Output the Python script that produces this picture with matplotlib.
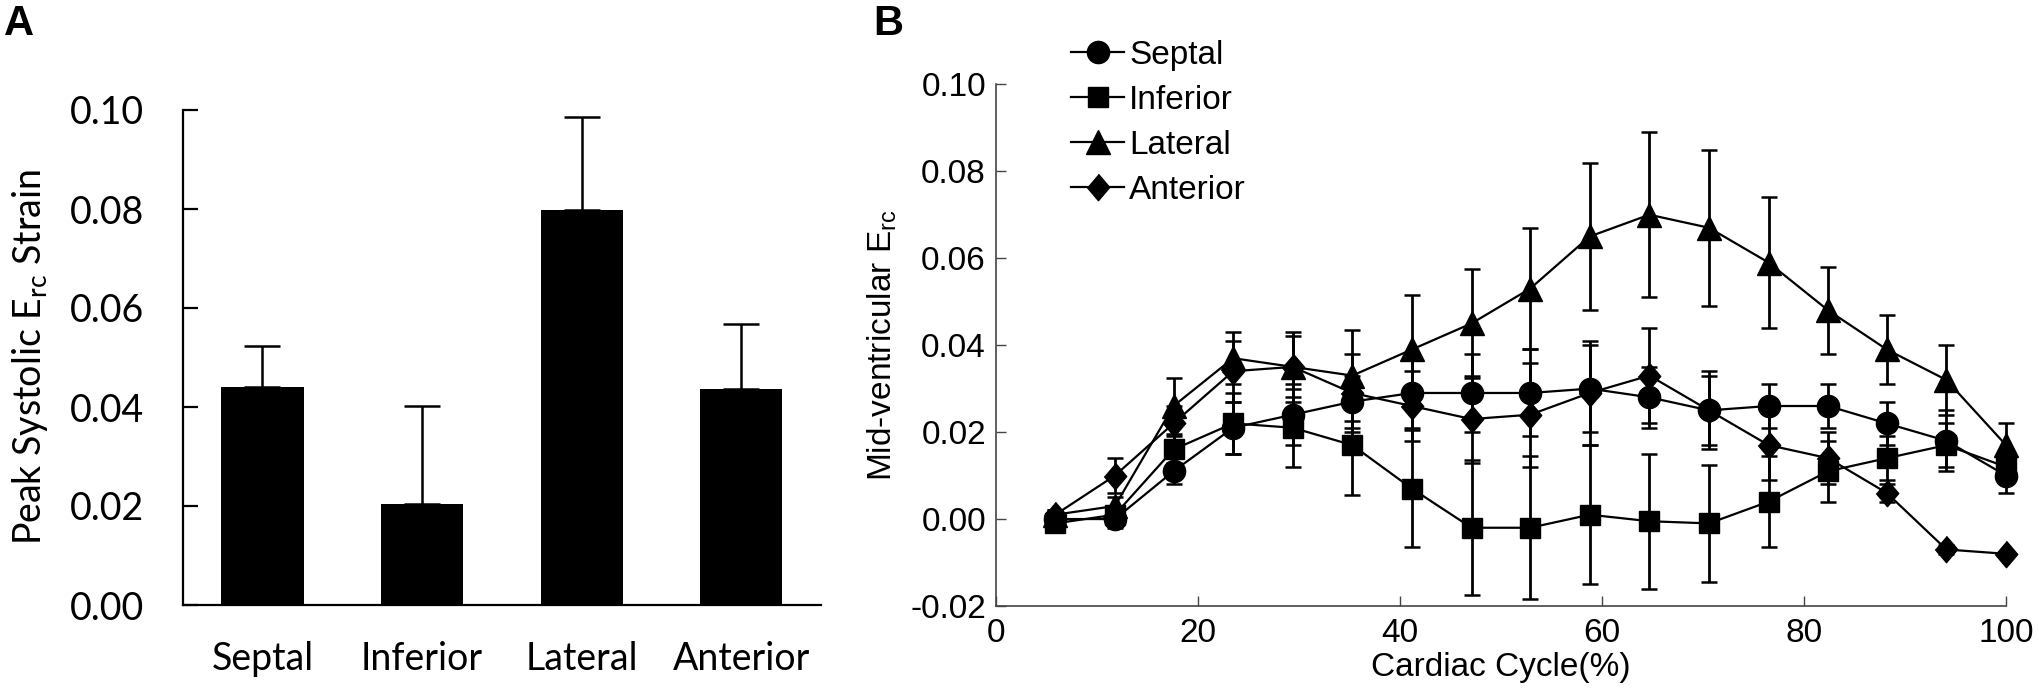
import matplotlib
matplotlib.use("Agg")
import matplotlib.pyplot as plt
import numpy as np

plt.rcParams['font.family'] = ['Liberation Sans', 'DejaVu Sans']
plt.rcParams['axes.unicode_minus'] = False

#%% data : panel A (peak systolic strain)
regions = ["Septal", "Inferior", "Lateral", "Anterior"]
peak_mean = [0.0440, 0.0205, 0.0797, 0.0436]
peak_sd = [0.0083, 0.0198, 0.0188, 0.0131]

#%% data : panel B (strain over cardiac cycle)
cycle = [5.9, 11.8, 17.6, 23.5, 29.4, 35.3, 41.2, 47.1, 52.9,
         58.8, 64.7, 70.6, 76.5, 82.4, 88.2, 94.1, 100]
septal = [0.000, 0.000, 0.011, 0.021, 0.024, 0.027, 0.029, 0.029, 0.029,
          0.030, 0.028, 0.025, 0.026, 0.026, 0.022, 0.018, 0.010]
septal_sd = [0.001, 0.002, 0.003, 0.006, 0.007, 0.006, 0.008, 0.009, 0.010,
             0.010, 0.007, 0.008, 0.005, 0.005, 0.005, 0.007, 0.004]
inferior = [-0.001, 0.001, 0.016, 0.022, 0.021, 0.017, 0.007, -0.002, -0.002,
            0.001, -0.0005, -0.001, 0.004, 0.011, 0.014, 0.017, 0.012]
inferior_sd = [0.001, 0.002, 0.003, 0.007, 0.009, 0.0115, 0.0135, 0.0155, 0.0165,
               0.016, 0.0155, 0.0135, 0.0105, 0.007, 0.005, 0.005, 0.003]
lateral = [0.001, 0.003, 0.026, 0.037, 0.035, 0.033, 0.039, 0.045, 0.053,
           0.065, 0.070, 0.067, 0.059, 0.048, 0.039, 0.032, 0.017]
lateral_sd = [0.001, 0.002, 0.0065, 0.006, 0.008, 0.0105, 0.0125, 0.0125, 0.014,
              0.017, 0.019, 0.018, 0.015, 0.010, 0.008, 0.008, 0.005]
anterior = [0.001, 0.010, 0.022, 0.034, 0.035, 0.029, 0.026, 0.023, 0.024,
            0.029, 0.033, 0.025, 0.017, 0.014, 0.006, -0.007, -0.008]
anterior_sd = [0.001, 0.004, 0.004, 0.007, 0.007, 0.009, 0.008, 0.010, 0.012,
               0.012, 0.011, 0.009, 0.008, 0.006, 0.002, 0.001, 0.0005]

W, H = 2040, 692
fig = plt.figure(figsize=(W / 100, H / 100), dpi=100)

#%% Panel A
fontA = 'Lato'
axA = fig.add_axes([182.7 / W, 1 - 605 / H, (821 - 182.7) / W, (605 - 110) / H])
pos = np.arange(len(regions))
axA.bar(pos, peak_mean, width=0.515, color='black', zorder=2)
axA.errorbar(pos, peak_mean, yerr=[np.zeros(len(peak_sd)), peak_sd], fmt='none',
             ecolor='black', elinewidth=1.8, capsize=13, capthick=1.8, zorder=1)
axA.set_xlim(-0.5, 3.5)
axA.set_ylim(0, 0.10)
axA.set_yticks(np.arange(0, 0.101, 0.02))
axA.set_yticklabels([f"{v:.2f}" for v in np.arange(0, 0.101, 0.02)], fontfamily=fontA, fontsize=27)
axA.set_xticks(pos)
axA.set_xticklabels(regions, fontfamily=fontA, fontsize=27)
axA.tick_params(axis='y', direction='in', length=11, width=1.6, pad=28)
axA.tick_params(axis='x', length=0, pad=26)
for s in ['top', 'right']:
    axA.spines[s].set_visible(False)
for s in ['left', 'bottom']:
    axA.spines[s].set_linewidth(1.6)
axA.set_ylabel('Peak Systolic E$_{\\mathregular{rc}}$ Strain', fontfamily=fontA, fontsize=27, labelpad=14)

#%% Panel B
axB = fig.add_axes([995.7 / W, 1 - 606 / H, (2006 - 995.7) / W, (606 - 84.3) / H])
series = [("Septal", septal, septal_sd, 'o', 16),
          ("Inferior", inferior, inferior_sd, 's', 15),
          ("Lateral", lateral, lateral_sd, '^', 17),
          ("Anterior", anterior, anterior_sd, [(0, 1), (0.85, 0), (0, -1), (-0.85, 0)], 19)]
for name, vals, sd, mk, ms in series:
    axB.errorbar(cycle, vals, yerr=sd, fmt='none', ecolor='black', elinewidth=2,
                 capsize=6, capthick=1.8, zorder=2, clip_on=False)
    axB.plot(cycle, vals, color='black', lw=1.6, marker=mk, ms=ms,
             mfc='black', mec='black', label=name, zorder=3, clip_on=False)
axB.set_xlim(0, 100)
axB.set_ylim(-0.02, 0.10)
axB.set_xticks(np.arange(0, 101, 20))
axB.set_yticks(np.arange(-0.02, 0.101, 0.02))
axB.set_yticklabels([f"{v:.2f}" for v in np.arange(-0.02, 0.101, 0.02)])
axB.tick_params(direction='in', length=7, width=1, labelsize=24, color='#444444')
axB.tick_params(axis='x', pad=9)
axB.tick_params(axis='y', pad=7)
for s in ['top', 'right']:
    axB.spines[s].set_visible(False)
for s in ['left', 'bottom']:
    axB.spines[s].set_linewidth(1.2)
    axB.spines[s].set_color('#444444')
axB.set_xlabel('Cardiac Cycle(%)', fontsize=24, labelpad=2)
axB.set_ylabel('Mid-ventricular E$_{\\mathregular{rc}}$', fontsize=24, labelpad=8)
axB.legend(loc='upper left', bbox_to_anchor=(1071 / W, 1 - 40 / H),
           bbox_transform=fig.transFigure, frameon=False, fontsize=24,
           handlelength=1.6, handletextpad=0.15, labelspacing=0.42,
           borderpad=0, borderaxespad=0)

fig.text(4 / W, 1 - 4 / H, 'A', fontsize=30, fontweight='bold', va='top', ha='left')
fig.text(873 / W, 1 - 4 / H, 'B', fontsize=30, fontweight='bold', va='top', ha='left')

fig.savefig('out.png', dpi=100)
